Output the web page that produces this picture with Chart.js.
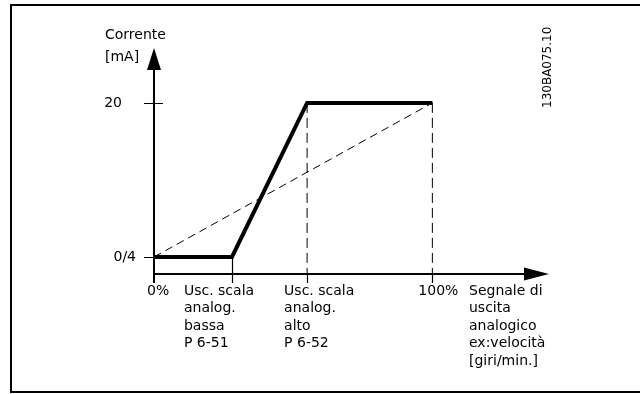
<!DOCTYPE html>
<html>
<head>
<meta charset="utf-8">
<script src="https://cdn.jsdelivr.net/npm/chart.js@4/dist/chart.umd.min.js"></script>
<style>
html,body{margin:0;padding:0;background:#fff;}
#wrap{position:relative;width:640px;height:394px;}
</style>
</head>
<body>
<div id="wrap"><canvas id="c" width="640" height="394"></canvas></div>
<script>
// ---- data ----
const yAxisTitle = ['Corrente', '[mA]'];
const yTickValues = [4, 20];
const yTickLabels = ['0/4', '20'];
const xTickValues = [0, 28, 55, 100];
const xTickLabels = [
  ['0%'],
  ['Usc. scala', 'analog.', 'bassa', 'P 6-51'],
  ['Usc. scala', 'analog.', 'alto', 'P 6-52'],
  ['100%']
];
const xAxisTitle = ['Segnale di', 'uscita', 'analogico', 'ex:velocità', '[giri/min.]'];
const outputX = [0, 28, 55, 100];
const outputY = [4, 4, 20, 20];
const linearX = [0, 100];
const linearY = [4, 20];
const figureCode = '130BA075.10';

// ---- layout (styles only) ----
const X_MIN = 0, X_MAX = 141.9, Y_MIN = 2.23, Y_MAX = 25.7;
const FONT = '14px "DejaVu Sans", Verdana, sans-serif';
const LINE_H = 17.6;
const xLabelOffsets = [-7, -48, -23, -14];
const yLabelRight = [-18, -32];

const pts = (xs, ys) => xs.map((x, i) => ({x: x, y: ys[i]}));

const axesPlugin = {
  id: 'axes',
  beforeDraw(chart) {
    const ctx = chart.ctx;
    ctx.save();
    ctx.fillStyle = '#fff';
    ctx.fillRect(0, 0, chart.width, chart.height);
    ctx.restore();
  },
  afterDatasetsDraw(chart) {
    const ctx = chart.ctx;
    const xs = chart.scales.x, ys = chart.scales.y;
    const x0 = xs.getPixelForValue(X_MIN);
    const y0 = ys.getPixelForValue(Y_MIN);
    const xEnd = xs.getPixelForValue(X_MAX);
    const yEnd = ys.getPixelForValue(Y_MAX);
    ctx.save();
    // frame
    ctx.strokeStyle = '#000';
    ctx.lineWidth = 2;
    ctx.beginPath();
    ctx.moveTo(660, 5); ctx.lineTo(11, 5); ctx.lineTo(11, 392); ctx.lineTo(660, 392);
    ctx.stroke();
    // axes
    ctx.lineWidth = 2;
    ctx.beginPath();
    ctx.moveTo(x0, y0 + 9); ctx.lineTo(x0, yEnd + 20);
    ctx.moveTo(x0, y0); ctx.lineTo(xEnd - 24, y0);
    ctx.stroke();
    // arrows
    ctx.fillStyle = '#000';
    ctx.beginPath();
    ctx.moveTo(x0, yEnd); ctx.lineTo(x0 - 7, yEnd + 22); ctx.lineTo(x0 + 7, yEnd + 22); ctx.closePath();
    ctx.fill();
    ctx.beginPath();
    ctx.moveTo(xEnd, y0); ctx.lineTo(xEnd - 25, y0 - 6.5); ctx.lineTo(xEnd - 25, y0 + 6.5); ctx.closePath();
    ctx.fill();
    // y ticks
    ctx.lineWidth = 1.2;
    ctx.beginPath();
    yTickValues.forEach((v, i) => {
      const py = Math.round(ys.getPixelForValue(v)) + 0.5;
      ctx.moveTo(x0 - 10, py);
      ctx.lineTo(i === yTickValues.length - 1 ? x0 + 9 : x0, py);
    });
    // x ticks
    xTickValues.forEach((v, i) => {
      if (i === 0) return;
      const px = Math.round(xs.getPixelForValue(v)) + 0.5;
      const top = (i === 1) ? ys.getPixelForValue(outputY[1]) : y0;
      ctx.moveTo(px, top); ctx.lineTo(px, y0 + 9);
    });
    ctx.stroke();
    // text
    ctx.font = FONT;
    ctx.fillStyle = '#000';
    ctx.textBaseline = 'middle';
    ctx.textAlign = 'left';
    yAxisTitle.forEach((t, i) => ctx.fillText(t, 105, 35 + i * 22));
    ctx.textAlign = 'right';
    yTickValues.forEach((v, i) => {
      ctx.fillText(yTickLabels[i], x0 + yLabelRight[i], ys.getPixelForValue(v));
    });
    ctx.textAlign = 'left';
    xTickValues.forEach((v, i) => {
      const px = xs.getPixelForValue(v) + xLabelOffsets[i];
      xTickLabels[i].forEach((t, j) => ctx.fillText(t, px, y0 + 17 + j * LINE_H));
    });
    xAxisTitle.forEach((t, j) => ctx.fillText(t, xEnd - 80, y0 + 17 + j * LINE_H));
    // figure code
    ctx.translate(548, 108);
    ctx.rotate(-Math.PI / 2);
    ctx.font = '12px "DejaVu Sans", Verdana, sans-serif';
    ctx.textAlign = 'left';
    ctx.fillText(figureCode, 0, 0);
    ctx.restore();
  }
};

new Chart(document.getElementById('c'), {
  type: 'scatter',
  data: {
    datasets: [
      {
        data: pts(linearX, linearY),
        showLine: true, borderColor: '#000', borderWidth: 1, borderDash: [8, 5],
        pointRadius: 0, clip: false
      },
      {
        data: [{x: outputX[2], y: outputY[2]}, {x: outputX[2], y: Y_MIN}],
        showLine: true, borderColor: '#000', borderWidth: 1, borderDash: [10, 5],
        pointRadius: 0, clip: false
      },
      {
        data: [{x: outputX[3], y: outputY[3]}, {x: outputX[3], y: Y_MIN}],
        showLine: true, borderColor: '#000', borderWidth: 1, borderDash: [10, 5],
        pointRadius: 0, clip: false
      },
      {
        data: pts(outputX, outputY),
        showLine: true, borderColor: '#000', borderWidth: 4,
        pointRadius: 0, clip: false, borderJoinStyle: 'miter'
      }
    ]
  },
  options: {
    responsive: false,
    animation: false,
    devicePixelRatio: 1,
    layout: {padding: {left: 154, right: 91, top: 48, bottom: 120}},
    plugins: {legend: {display: false}, tooltip: {enabled: false}, title: {display: false}},
    scales: {
      x: {type: 'linear', min: X_MIN, max: X_MAX, display: false},
      y: {type: 'linear', min: Y_MIN, max: Y_MAX, display: false}
    }
  },
  plugins: [axesPlugin]
});
</script>
</body>
</html>
